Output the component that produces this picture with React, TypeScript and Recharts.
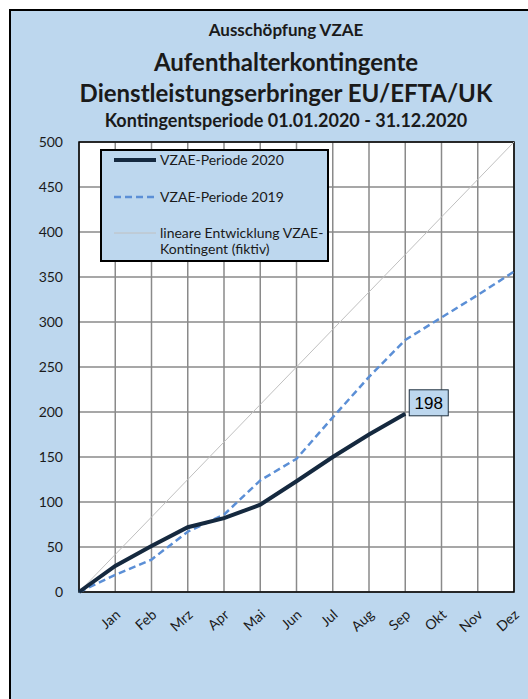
import React from 'react';
import { LineChart, Line, XAxis, YAxis, CartesianGrid, LabelList, ReferenceArea } from 'recharts';

const months = ['', 'Jan', 'Feb', 'Mrz', 'Apr', 'Mai', 'Jun', 'Jul', 'Aug', 'Sep', 'Okt', 'Nov', 'Dez'];
const period2020 = [0, 29, 51, 72, 82, 97, 123, 150, 175, 198, null, null, null];
const period2019 = [0, 19, 36, 67, 86, 124, 148, 194, 239, 280, 305, 330, 356];
const linear = [0, 41.7, 83.3, 125, 166.7, 208.3, 250, 291.7, 333.3, 375, 416.7, 458.3, 500];
const yTicks = [0, 50, 100, 150, 200, 250, 300, 350, 400, 450, 500];

const data = months.map((m, i) => ({
  m,
  v2020: period2020[i],
  v2019: period2019[i],
  lin: linear[i],
}));

const C = {
  bg: '#bdd7ee',
  navy: '#15293f',
  blue: '#5b8fd6',
  gray: '#c0c0c0',
  grid: '#8a8a8a',
  text: '#1a1a1a',
};

const FONT = 'Lato, "Open Sans", sans-serif';

const XTick = (props: any) => {
  const { x, y, payload } = props;
  return (
    <g transform={`translate(${x + 6},${y + 16})`}>
      <text x={0} y={0} textAnchor="end" transform="rotate(-42)" fontSize={14} fill={C.text} fontFamily={FONT}>
        {payload.value}
      </text>
    </g>
  );
};

const EndLabel = (props: any) => {
  const { x, y, index, value } = props;
  if (index !== 9) return null;
  return (
    <g>
      <rect x={x + 4} y={y - 24} width={39} height={26} fill={C.bg} stroke="#1f2f3f" strokeWidth={1} />
      <text x={x + 23.5} y={y - 5} textAnchor="middle" fontSize={17} fill="#000" fontFamily="'Liberation Sans', Arial, sans-serif">
        {value}
      </text>
    </g>
  );
};

// legend box drawn over the plot, like the Excel original
const LegendBox = () => (
  <div
    style={{
      position: 'absolute',
      left: 100,
      top: 149,
      width: 225,
      height: 109,
      background: C.bg,
      border: '2px solid #000',
      fontFamily: FONT,
      fontSize: 14,
      color: C.text,
    }}
  >
    <svg width={44} height={100} style={{ position: 'absolute', left: 12, top: 0 }}>
      <line x1={0} y1={9} x2={42} y2={9} stroke={C.navy} strokeWidth={4} />
      <line x1={0} y1={46} x2={42} y2={46} stroke={C.blue} strokeWidth={2.5} strokeDasharray="7 4" />
      <line x1={0} y1={82} x2={42} y2={82} stroke={C.gray} strokeWidth={1} />
    </svg>
    <div style={{ position: 'absolute', left: 58, top: 0, lineHeight: '18px' }}>VZAE-Periode 2020</div>
    <div style={{ position: 'absolute', left: 58, top: 37, lineHeight: '18px' }}>VZAE-Periode 2019</div>
    <div style={{ position: 'absolute', left: 58, top: 74, lineHeight: '16px' }}>
      lineare Entwicklung VZAE-
      <br />
      Kontingent (fiktiv)
    </div>
  </div>
);

export default function App() {
  const titleRow = { position: 'absolute' as const, left: 0, width: 572, lineHeight: 1.2 };
  return (
    <div style={{ position: 'absolute', left: 0, top: 0, width: 528, height: 699, overflow: 'hidden', background: '#fff' }}>
      <div
        style={{
          position: 'absolute',
          left: 9,
          top: 9,
          width: 640,
          height: 760,
          background: C.bg,
          borderLeft: '2px solid #000',
          borderTop: '2px solid #000',
        }}
      />
      <div style={{ position: 'absolute', left: 0, top: 0, width: 572, textAlign: 'center', fontFamily: FONT, fontWeight: 700, color: C.text }}>
        <div style={{ ...titleRow, top: 20, fontSize: 17 }}>Ausschöpfung VZAE</div>
        <div style={{ ...titleRow, top: 48, fontSize: 24 }}>Aufenthalterkontingente</div>
        <div style={{ ...titleRow, top: 79, fontSize: 24 }}>Dienstleistungserbringer EU/EFTA/UK</div>
        <div style={{ ...titleRow, top: 110, fontSize: 18 }}>Kontingentsperiode 01.01.2020 - 31.12.2020</div>
      </div>
      <div style={{ position: 'absolute', left: 0, top: 0 }}>
        <LineChart width={528} height={699} data={data} margin={{ top: 142, right: 14, left: 20, bottom: 67 }}>
          <CartesianGrid stroke={C.grid} strokeWidth={1.5} fill="#fff" horizontal vertical />
          <XAxis
            dataKey="m"
            interval={0}
            height={40}
            axisLine={false}
            tickLine={false}
            tick={<XTick />}
          />
          <YAxis
            domain={[0, 500]}
            ticks={yTicks}
            width={59}
            axisLine={false}
            tickLine={false}
            tickMargin={10}
            tick={{ fontSize: 14, fill: C.text, fontFamily: FONT }}
          />
          <ReferenceArea y1={0} y2={500} fill="none" stroke="#000" strokeWidth={1.5} fillOpacity={0} />
          <Line
            dataKey="lin"
            stroke={C.gray}
            strokeWidth={1}
            dot={false}
            isAnimationActive={false}
          />
          <Line
            dataKey="v2019"
            stroke={C.blue}
            strokeWidth={2.5}
            strokeDasharray="7 4"
            dot={false}
            isAnimationActive={false}
          />
          <Line
            dataKey="v2020"
            stroke={C.navy}
            strokeWidth={4}
            dot={false}
            connectNulls={false}
            isAnimationActive={false}
          >
            <LabelList dataKey="v2020" content={<EndLabel />} />
          </Line>
        </LineChart>
      </div>
      <LegendBox />
    </div>
  );
}
